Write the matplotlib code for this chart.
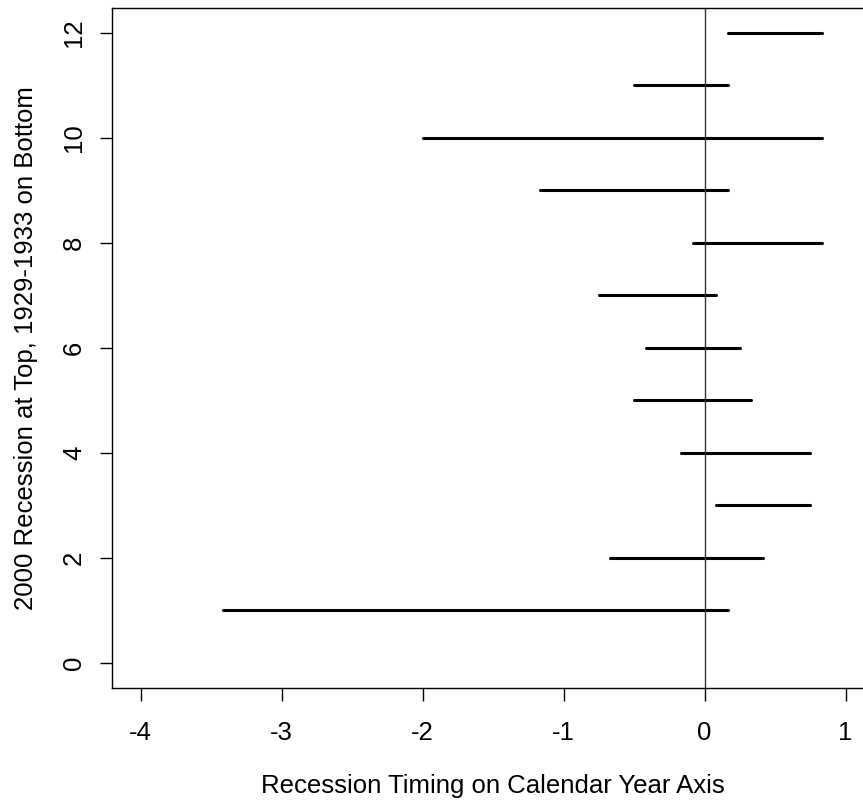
import matplotlib
matplotlib.use("Agg")
import matplotlib.pyplot as plt

# Data
rank = [1, 2, 3, 4, 5, 6, 7, 8, 9, 10, 11, 12]
start = [-3.417, -0.667, 0.083, -0.167, -0.5, -0.417, -0.75, -0.083, -1.167, -2.0, -0.5, 0.167]
end = [0.167, 0.417, 0.75, 0.75, 0.333, 0.25, 0.083, 0.833, 0.167, 0.833, 0.167, 0.833]
xticks = [-4, -3, -2, -1, 0, 1]
yticks = [0, 2, 4, 6, 8, 10, 12]

plt.rcParams['font.family'] = ['Liberation Sans', 'DejaVu Sans']

W, H = 863, 801
fig = plt.figure(figsize=(W / 100, H / 100), dpi=100)
left_px, right_px, top_px, bottom_px = 112.3, 873.7, 7.5, 688.0
ax = fig.add_axes([left_px / W, 1 - bottom_px / H,
                   (right_px - left_px) / W, (bottom_px - top_px) / H])

lc = ax.hlines(rank, start, end, colors='black', linewidth=2.2)
lc.set_capstyle('round')
ax.axvline(0, color='#333333', linewidth=1.0)

ax.set_xlim(-4.2, 1.2)
ax.set_ylim(-0.48, 12.48)
ax.set_xticks(xticks)
ax.set_xticklabels([str(t) for t in xticks])
ax.set_yticks(yticks)
ax.set_yticklabels([str(t) for t in yticks], rotation=90, va='center')

ax.tick_params(axis='both', length=9, width=1, labelsize=18.5, color='black')
ax.tick_params(axis='x', pad=15)
ax.tick_params(axis='y', pad=10)
for s in ax.spines.values():
    s.set_linewidth(1.0)
    s.set_color('black')

cx = (left_px + right_px) / 2 / W
cy = 1 - (top_px + bottom_px) / 2 / H
fig.text(cx, (H - 793) / H, 'Recession Timing on Calendar Year Axis',
         fontsize=18.5, ha='center', va='baseline')
fig.text(33 / W, cy, '2000 Recession at Top, 1929-1933 on Bottom',
         fontsize=18.5, ha='center', va='baseline', rotation=90,
         rotation_mode='anchor')

fig.savefig('out.png', dpi=100)
